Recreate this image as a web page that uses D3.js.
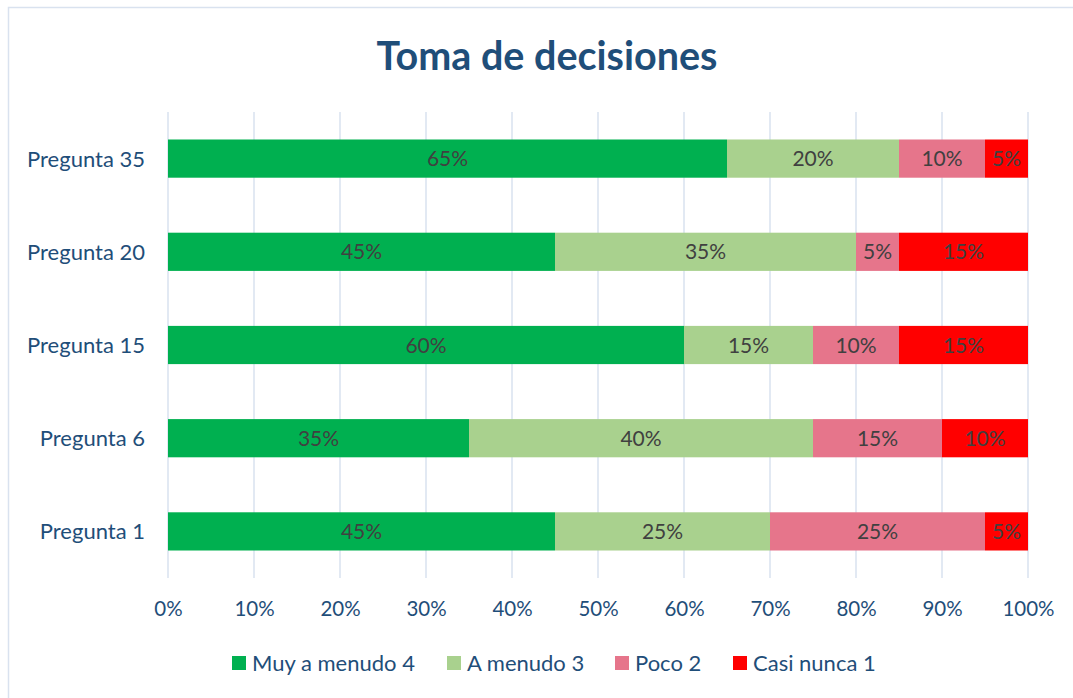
<!DOCTYPE html>
<html><head><meta charset="utf-8">
<script src="https://cdn.jsdelivr.net/npm/d3@7"></script>
<style>body{margin:0;background:#fff;}svg{display:block;font-family:Lato,"Open Sans",sans-serif;}</style>
</head><body>
<svg id="c" width="1073" height="698"></svg>
<script>
const categories = ["Pregunta 35","Pregunta 20","Pregunta 15","Pregunta 6","Pregunta 1"];
const seriesNames = ["Muy a menudo 4","A menudo 3","Poco 2","Casi nunca 1"];
const muyAMenudo = [0.65,0.45,0.60,0.35,0.45];
const aMenudo = [0.20,0.35,0.15,0.40,0.25];
const poco = [0.10,0.05,0.10,0.15,0.25];
const casiNunca = [0.05,0.15,0.15,0.10,0.05];
const tickValues = [0,0.1,0.2,0.3,0.4,0.5,0.6,0.7,0.8,0.9,1.0];
const colors = ["#00b050","#a9d18e","#e6758b","#ff0000"];

const svg = d3.select("#c");
svg.append("rect").attr("x",8.5).attr("y",7.5).attr("width",1080).attr("height",700)
  .attr("fill","#fff").attr("stroke","#d9e2ef").attr("stroke-width",1.5);

svg.append("text").attr("x",547).attr("y",70).attr("text-anchor","middle")
  .attr("font-size",39.5).attr("font-weight","bold").attr("fill","#1f4e79").text("Toma de decisiones");

const x = d3.scaleLinear().domain([0,1]).range([168,1028]);
const y = d3.scaleBand().domain(categories).range([112,578]).paddingInner(0.59).paddingOuter(0.295);

svg.append("g").selectAll("line").data(tickValues).join("line")
  .attr("x1",d=>x(d)).attr("x2",d=>x(d)).attr("y1",112).attr("y2",578)
  .attr("stroke","#d9e2ef").attr("stroke-width",1.5);

const rows = categories.map((c,i)=>({cat:c, vals:[muyAMenudo[i],aMenudo[i],poco[i],casiNunca[i]]}));
const stackData = rows.map(r=>{const o={cat:r.cat}; seriesNames.forEach((s,j)=>o[s]=r.vals[j]); return o;});
const stack = d3.stack().keys(seriesNames)(stackData);

const g = svg.append("g");
stack.forEach((layer,j)=>{
  layer.forEach(seg=>{
    const cat = seg.data.cat;
    g.append("rect").attr("x",x(seg[0])).attr("y",y(cat)).attr("width",x(seg[1])-x(seg[0])).attr("height",y.bandwidth())
      .attr("fill",colors[j]);
    g.append("text").attr("x",(x(seg[0])+x(seg[1]))/2).attr("y",y(cat)+y.bandwidth()/2).attr("dy","0.36em")
      .attr("text-anchor","middle").attr("font-size",21).attr("fill","#404040")
      .text(d3.format(".0%")(seg[1]-seg[0]));
  });
});

const ya = svg.append("g").attr("transform","translate(145,0)").call(d3.axisLeft(y).tickSize(0).tickPadding(0));
ya.select(".domain").remove();
ya.selectAll("text").attr("font-size",22).attr("fill","#1f4e79").attr("font-family","Lato,'Open Sans',sans-serif").attr("dy","0.36em");

const xa = svg.append("g").attr("transform","translate(0,578)").call(d3.axisBottom(x).tickValues(tickValues).tickFormat(d3.format(".0%")).tickSize(0).tickPadding(23));
xa.select(".domain").remove();
xa.selectAll("text").attr("font-size",20.5).attr("fill","#1f4e79").attr("font-family","Lato,'Open Sans',sans-serif");

const legX = [232, 447, 615, 733];
const leg = svg.append("g");
seriesNames.forEach((s,i)=>{
  leg.append("rect").attr("x",legX[i]).attr("y",656).attr("width",14).attr("height",14).attr("fill",colors[i]);
  leg.append("text").attr("x",legX[i]+20).attr("y",663).attr("dy","0.36em").attr("font-size",22).attr("fill","#1f4e79").text(s);
});
</script>
</body></html>
